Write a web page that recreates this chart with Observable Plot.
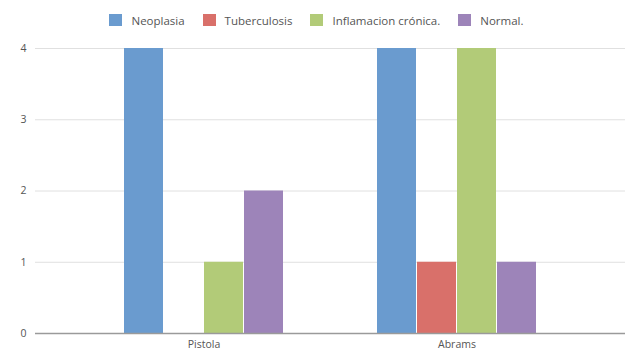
<!DOCTYPE html>
<html>
<head>
<meta charset="utf-8">
<script src="https://cdn.jsdelivr.net/npm/d3@7"></script>
<script src="https://cdn.jsdelivr.net/npm/@observablehq/plot@0.6"></script>
<style>
  html, body { margin: 0; padding: 0; background: #fff; }
  body { width: 625px; height: 352px; overflow: hidden; font-family: "Open Sans", sans-serif; }
  .legend { display: flex; justify-content: center; align-items: center; height: 40px; padding: 0 0 0 8px; box-sizing: border-box; font-size: 11.5px; color: #555; }
  .legend .item { display: flex; align-items: center; margin: 0 9px; }
  .legend .sw { width: 13px; height: 12px; display: inline-block; margin-right: 9px; }
  svg { display: block; }
</style>
</head>
<body>
<div id="chart"></div>
<script>
// Categories (biopsy technique) and diagnosis series
const categories = ["Pistola", "Abrams"];
const series = ["Neoplasia", "Tuberculosis", "Inflamacion crónica.", "Normal."];
const colors = ["#6a9bcf", "#d9706a", "#b2cb78", "#9d84b9"];

// Counts per series, in the order of the categories
const neoplasia = [4, 4];
const tuberculosis = [0, 1];
const inflamacion = [1, 4];
const normal = [2, 1];

const yTicks = [0, 1, 2, 3, 4];

const seriesValues = [neoplasia, tuberculosis, inflamacion, normal];
const data = [];
categories.forEach((c, i) => {
  series.forEach((s, j) => data.push({category: c, series: s, value: seriesValues[j][i]}));
});

// Legend above the plot
const legend = document.createElement("div");
legend.className = "legend";
series.forEach((s, j) => {
  const item = document.createElement("span");
  item.className = "item";
  const sw = document.createElement("span");
  sw.className = "sw";
  sw.style.background = colors[j];
  const label = document.createElement("span");
  label.textContent = s;
  item.append(sw, label);
  legend.append(item);
});

const width = 625;
const marginLeft = 35;
const fxPaddingOuter = 0.166;
// The y axis sits on the left edge of the first facet; shift it back to the plot's left margin
const fxStep = (width - marginLeft) / (categories.length + 2 * fxPaddingOuter);
const axisShift = -fxPaddingOuter * fxStep;
const plotWidth = width - marginLeft;

const chart = Plot.plot({
  width,
  height: 312,
  marginLeft,
  marginRight: 0,
  marginTop: 8,
  marginBottom: 19,
  style: {fontFamily: "Open Sans, sans-serif", fontSize: "10.5px", color: "#555", background: "#fff", overflow: "visible"},
  fx: {domain: categories, paddingInner: 0, paddingOuter: fxPaddingOuter, label: null, tickSize: 0, tickPadding: 7},
  x: {domain: series, paddingInner: 0.025, paddingOuter: 1.1, axis: null},
  y: {domain: [0, 4], label: null},
  color: {domain: series, range: colors},
  marks: [
    // gridlines across the full plot width
    Plot.axisY(yTicks.filter(d => d > 0), {tickSize: -plotWidth, tickFormat: () => "", stroke: "#e0e0e0", strokeOpacity: 1, dx: axisShift, label: null}),
    Plot.barY(data, {fx: "category", x: "series", y: "value", fill: "series"}),
    // baseline at zero
    Plot.axisY([0], {tickSize: -plotWidth, tickFormat: () => "", stroke: "#9a9a9a", strokeOpacity: 1, strokeWidth: 1.5, dx: axisShift, label: null}),
    // tick labels
    Plot.axisY(yTicks, {tickSize: 0, tickPadding: 9, tickFormat: d3.format("d"), dx: axisShift, fill: "#555", label: null})
  ]
});

const root = document.getElementById("chart");
root.append(legend, chart);
</script>
</body>
</html>
